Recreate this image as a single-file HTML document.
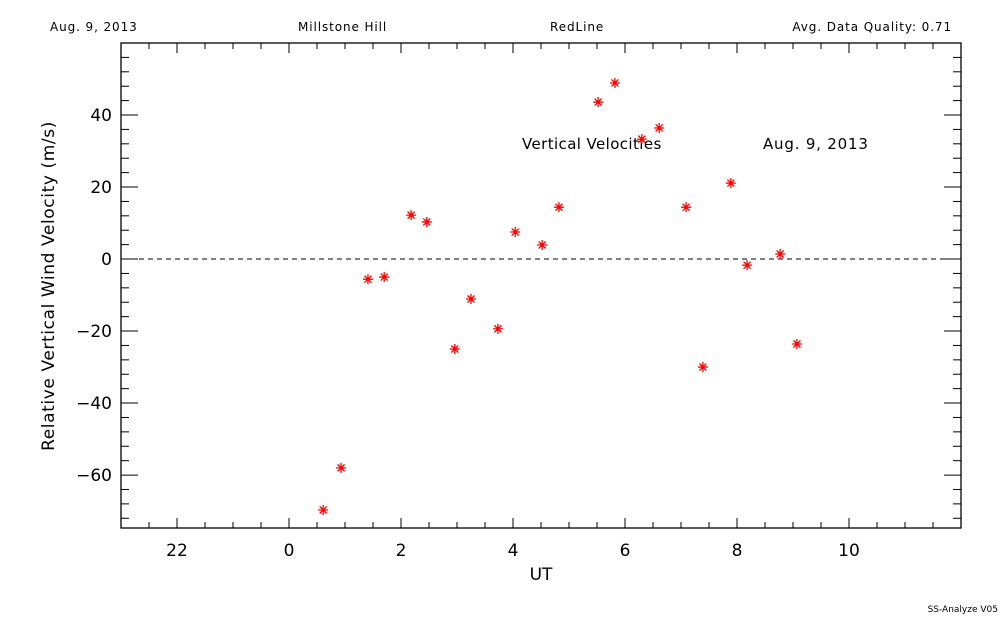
<!DOCTYPE html>
<html><head><meta charset="utf-8"><style>
body{margin:0;background:#fff;}
svg text{font-family:"DejaVu Sans","Liberation Sans",sans-serif;}
.h{letter-spacing:0.9px;}
</style></head><body>
<svg id="c" width="1000" height="625" xmlns="http://www.w3.org/2000/svg">
<rect width="1000" height="625" fill="#fff"/>
<text class="h" x="50" y="31" font-size="12">Aug. 9, 2013</text>
<text class="h" x="298" y="31" font-size="12">Millstone Hill</text>
<text class="h" x="550" y="31" font-size="12">RedLine</text>
<text class="h" x="952" y="31" font-size="12" text-anchor="end">Avg. Data Quality: 0.71</text>
<text x="998" y="612" font-size="9" text-anchor="end">SS-Analyze V05</text>
<g id="g"></g>
</svg>
<script>
const xs=[0.61,0.93,1.41,1.70,2.18,2.46,2.96,3.25,3.73,4.04,4.52,4.82,5.52,5.82,6.30,6.61,7.09,7.39,7.89,8.18,8.77,9.07];
const ys=[-69.7,-58,-5.6,-5,12.2,10.3,-25,-11.1,-19.4,7.5,3.9,14.4,43.6,48.9,33.3,36.4,14.4,-30,21.1,-1.7,1.4,-23.6];
const xTickVals=[-2,0,2,4,6,8,10];
const xTickLabels=["22","0","2","4","6","8","10"];
const yTickVals=[-60,-40,-20,0,20,40];
const L=121,R=961,T=43,B=528,X0=-3,X1=12,Y0=-74.7,Y1=60;
const sx=v=>L+(v-X0)/(X1-X0)*(R-L), sy=v=>B-(v-Y0)/(Y1-Y0)*(B-T);
const g=document.getElementById('g'),NS='http://www.w3.org/2000/svg';
function el(t,a,p){const e=document.createElementNS(NS,t);for(const k in a)e.setAttribute(k,a[k]);(p||g).appendChild(e);return e;}
const fr=el('rect',{x:L,y:T,width:R-L,height:B-T,fill:'none',stroke:'#000','stroke-width':1.3});


for(let v=-2.5;v<12;v+=0.5){const maj=Math.abs(v%2)<1e-6,len=maj?10:6,x=sx(v);
 el('line',{x1:x,x2:x,y1:B,y2:B-len,stroke:'#000'});el('line',{x1:x,x2:x,y1:T,y2:T+len,stroke:'#000'});}
for(let v=-72;v<60;v+=4){const maj=v%20===0,len=maj?17:8,y=sy(v);
 el('line',{x1:L,x2:L+len,y1:y,y2:y,stroke:'#000'});el('line',{x1:R,x2:R-len,y1:y,y2:y,stroke:'#000'});}
xTickVals.forEach((v,i)=>{const t=el('text',{x:sx(v),y:556,'font-size':17,'text-anchor':'middle'});t.textContent=xTickLabels[i];
 
 });
yTickVals.forEach(v=>{const t=el('text',{x:112,y:sy(v)+6,'font-size':17,'text-anchor':'end'});t.textContent=(v<0?'\u2212':'')+Math.abs(v);
 
 });
const xt=el('text',{x:541,y:580,'font-size':17,'text-anchor':'middle'});xt.textContent='UT';


const yt=el('text',{x:0,y:0,'font-size':17,'text-anchor':'middle','letter-spacing':0.6,transform:'translate(54,286) rotate(-90)'});yt.textContent='Relative Vertical Wind Velocity (m/s)';


const zl=el('line',{x1:L,x2:R,y1:sy(0),y2:sy(0),stroke:'#000','stroke-dasharray':'5,4'});


const a1=el('text',{x:522,y:149,'font-size':15,'letter-spacing':0.4});a1.textContent='Vertical Velocities';


const a2=el('text',{x:763,y:149,'font-size':15,'letter-spacing':0.8});a2.textContent='Aug. 9, 2013';


xs.forEach((v,i)=>{const x=sx(v),y=sy(ys[i]),r=5;const p=el('path',{d:`M${x-r},${y}H${x+r}M${x},${y-r}V${y+r}M${x-3.5},${y-3.5}L${x+3.5},${y+3.5}M${x-3.5},${y+3.5}L${x+3.5},${y-3.5}`,stroke:'#f00','stroke-width':1.3});
 
 });
</script>
</body></html>
